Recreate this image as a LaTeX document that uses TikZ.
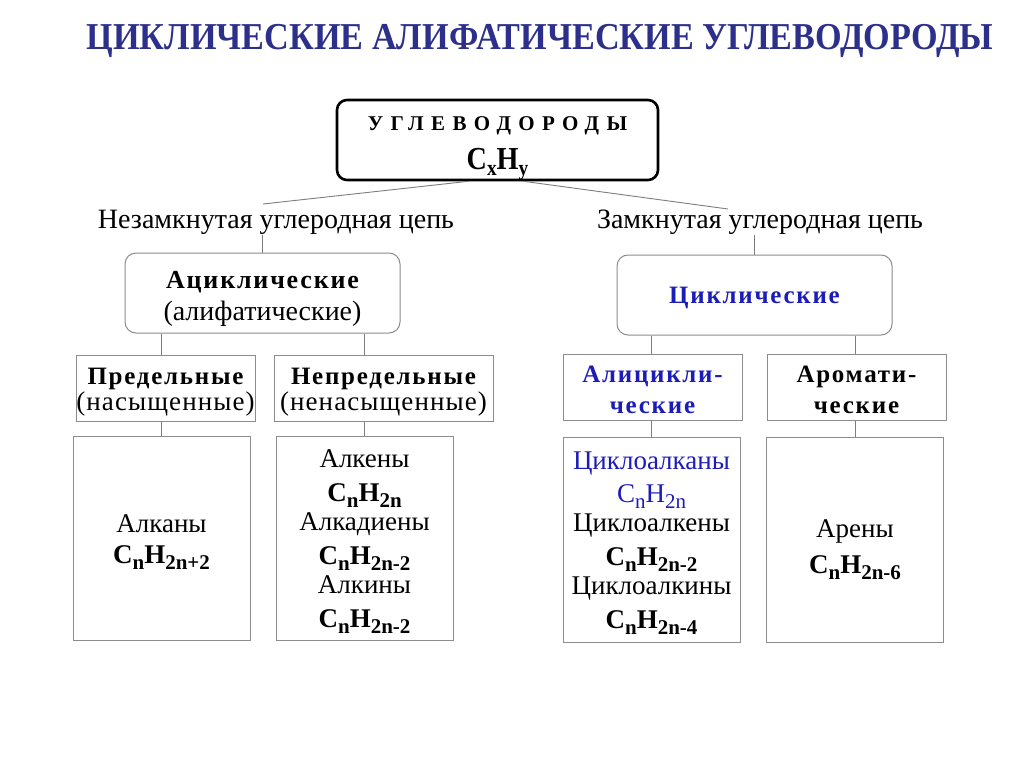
\documentclass[tikz,border=0pt]{standalone}
\usepackage{fontspec}
\usepackage{graphicx}
\setmainfont{Liberation Serif}
\newfontfamily\headspaced[LetterSpace=35]{Liberation Serif}
\newfontfamily\widebf[LetterSpace=7]{Liberation Serif}
\newfontfamily\plainspaced[LetterSpace=4]{Liberation Serif}
\definecolor{titleblue}{RGB}{44, 48, 138}
\definecolor{cycblue}{RGB}{28, 28, 185}
\definecolor{boxgray}{RGB}{140, 140, 140}
\definecolor{linegray}{RGB}{125, 125, 125}
\usepackage{tikz}
\usetikzlibrary{positioning, calc}

\newcommand{\lo}[2][21]{\raisebox{-6pt}{\fontsize{#1}{#1}\selectfont #2}}
\newcommand{\cnh}[1]{C\lo{n}H\lo{#1}}

\begin{document}
\begin{tikzpicture}[x=1pt, y=-1pt,
  hbox/.style={draw=black, line width=2.6pt, rounded corners=10pt, minimum width=321pt, minimum height=80pt, align=center, inner sep=0pt},
  gbox/.style={draw=boxgray, line width=1pt, rounded corners=11pt, minimum width=275pt, minimum height=80pt, align=center, inner sep=0pt},
  cbox/.style={draw=boxgray, line width=1pt, minimum height=66pt, align=center, inner sep=0pt},
  lbox/.style={draw=boxgray, line width=1pt, minimum width=177pt, minimum height=204pt, align=center, inner sep=0pt, text depth=0pt, font=\fontsize{27}{29}\selectfont},
  lbl/.style={font=\fontsize{28}{30}\selectfont, inner sep=0pt, anchor=base},
  link/.style={draw=linegray, line width=0.9pt}
]
  \fill[white] (0,0) rectangle (1024,767);
  \useasboundingbox (0,0) rectangle (1024,767);

  % Title
  \node[anchor=base, font=\fontsize{38}{40}\selectfont\bfseries, text=titleblue] (title) at (540,50)
    {\scalebox{0.9}[1]{ЦИКЛИЧЕСКИЕ АЛИФАТИЧЕСКИЕ УГЛЕВОДОРОДЫ}};

  % Top level
  \node[hbox, text height=60pt, text depth=0pt, font=\fontsize{21}{39}\selectfont] (top) at (497.5,140)
    {{\headspaced\bfseries УГЛЕВОДОРОДЫ}\\
     {\fontsize{32}{39}\selectfont\bfseries\scalebox{0.88}[1]{C\lo[22]{x}H\lo[22]{y}}}};
  \node[lbl] (openlbl) at (276,229) {Незамкнутая углеродная цепь};
  \node[lbl] (closedlbl) at (760,229) {Замкнутая углеродная цепь};
  \coordinate (openend) at (263,204);
  \coordinate (closedend) at (728,209);

  % Groups
  \node[gbox, text height=54pt, text depth=0pt, font=\fontsize{28}{32}\selectfont] (acyc) at (262.5,293)
    {{\fontsize{26}{32}\widebf\bfseries Ациклические}\\(алифатические)};
  \node[gbox, text height=16pt, text depth=0pt, font=\fontsize{25}{32}\widebf\bfseries, text=cycblue] (cyc) at (754.5,295)
    {Циклические};

  % Classes
  \node[cbox, minimum width=179pt, text height=43pt, text depth=0pt, font=\fontsize{27}{26}\plainspaced] (pred) at (165.5,388.5)
    {{\fontsize{25}{26}\widebf\bfseries Предельные}\\(насыщенные)};
  \node[cbox, minimum width=219pt, text height=43pt, text depth=0pt, font=\fontsize{27}{26}\plainspaced] (nepred) at (383.5,388.5)
    {{\fontsize{25}{26}\widebf\bfseries Непредельные}\\(ненасыщенные)};
  \node[cbox, minimum width=179pt, text height=51pt, text depth=0pt, font=\fontsize{25}{31}\widebf\bfseries, text=cycblue] (alic) at (652.5,387.5)
    {Алицикли-\\ческие};
  \node[cbox, minimum width=179pt, text height=51pt, text depth=0pt, font=\fontsize{25}{31}\widebf\bfseries] (arom) at (856.5,387.5)
    {Аромати-\\ческие};

  % Members
  \node[lbox, text height=49pt] (alk) at (161.5,538.5) {Алканы\\[2pt]\textbf{\cnh{2n+2}}};
  \node[lbox, text height=177pt] (unsat) at (364.5,538.5)
    {Алкены\\[5pt]\textbf{\cnh{2n}}\\Алкадиены\\[5pt]\textbf{\cnh{2n-2}}\\Алкины\\[5pt]\textbf{\cnh{2n-2}}};
  \node[lbox, minimum height=205pt, text height=177pt] (cycl) at (651.5,539.5)
    {\textcolor{cycblue}{Циклоалканы}\\[4pt]\textcolor{cycblue}{\cnh{2n}}\\Циклоалкены\\[5pt]\textbf{\cnh{2n-2}}\\Циклоалкины\\[5pt]\textbf{\cnh{2n-4}}};
  \node[lbox, minimum height=205pt, text height=67pt] (aren) at (855,539.5) {Арены\\[7pt]\textbf{\cnh{2n-6}}};

  % Connectors
  \draw[link] ([xshift=-29pt]top.south) -- (openend);
  \draw[link] ([xshift=26pt]top.south) -- (closedend);
  \draw[link] (openlbl.south -| acyc.north) -- (acyc.north);
  \draw[link] (closedlbl.south -| cyc.north) -- (cyc.north);
  \draw[link] (acyc.south -| alk.north) -- (pred.north -| alk.north);
  \draw[link] (acyc.south -| unsat.north) -- (nepred.north -| unsat.north);
  \draw[link] (cyc.south -| cycl.north) -- (alic.north -| cycl.north);
  \draw[link] (cyc.south -| aren.north) -- (arom.north -| aren.north);
  \draw[link] (pred.south -| alk.north) -- (alk.north);
  \draw[link] (nepred.south -| unsat.north) -- (unsat.north);
  \draw[link] (alic.south -| cycl.north) -- (cycl.north);
  \draw[link] (arom.south -| aren.north) -- (aren.north);
\end{tikzpicture}
\end{document}
